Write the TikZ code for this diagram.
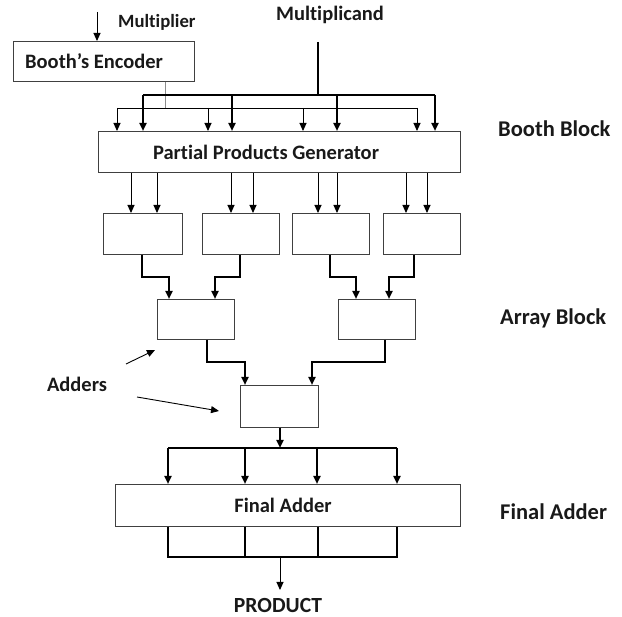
\documentclass[tikz,border=0pt]{standalone}
\usepackage{fontspec}
\setmainfont[Ligatures=NoCommon]{Carlito}
\usetikzlibrary{arrows.meta,calc}
\begin{document}
\begin{tikzpicture}[x=1pt,y=-1pt,
  box/.style={draw=black!75,line width=0.9pt,anchor=north west,inner sep=0pt},
  lbl/.style={font=\bfseries\fontsize{20.5}{22}\selectfont,text=black!90,inner sep=0pt},
  side/.style={font=\bfseries\fontsize{22.5}{24}\selectfont,text=black!90,inner sep=0pt,anchor=west},
  thin/.style={line width=0.9pt,-{Triangle[length=8pt,width=7pt]}},
  thick/.style={line width=2.2pt,-{Triangle[length=8pt,width=7pt]}},
  thickl/.style={line width=2.2pt},
  thinl/.style={line width=0.9pt}]
\useasboundingbox (0,0) rectangle (622,617);
% boxes
\node[box,minimum width=181pt,minimum height=40pt] (enc) at (13,41) {};
\node[lbl,anchor=west] at (25,61) {Booth’s Encoder};
\node[box,minimum width=362pt,minimum height=41pt] (ppg) at (98,131) {};
\node[lbl] at (266,152) {Partial Products Generator};
\node[box,minimum width=79pt,minimum height=41pt] (a1) at (103,213) {};
\node[box,minimum width=77pt,minimum height=41pt] (a2) at (202,213) {};
\node[box,minimum width=77pt,minimum height=41pt] (a3) at (292,213) {};
\node[box,minimum width=77pt,minimum height=41pt] (a4) at (383,213) {};
\node[box,minimum width=77pt,minimum height=40pt] (b1) at (157,299) {};
\node[box,minimum width=77pt,minimum height=40pt] (b2) at (338,299) {};
\node[box,minimum width=78pt,minimum height=42pt] (c1) at (240,385) {};
\node[box,minimum width=345pt,minimum height=42pt] (fa) at (115,484) {};
\node[lbl] at (283,505) {Final Adder};
% labels
\node[lbl,anchor=west,font=\bfseries\fontsize{18.7}{20}\selectfont] (mlt) at (118,22) {Multiplier};
\node[lbl] (mcd) at (330,15) {Multiplicand};
\node[side] at (498,129) {Booth Block};
\node[side] at (500,318) {Array Block};
\node[side] at (500,512) {Final Adder};
\node[lbl] (add) at (77,384) {Adders};
\node[lbl,font=\bfseries\fontsize{21.6}{23}\selectfont] (prod) at (278,605) {PRODUCT};
% multiplier input
\coordinate (minp) at (97,12);
\draw[thin] (minp) -- (minp |- enc.north);
% encoder bus (gray + thin)
\coordinate (eb) at (165,108);
\draw[line width=0.9pt,black!45] (enc.south -| eb) -- (eb);
\coordinate (tl) at (117,108);
\coordinate (tr) at (417,108);
\draw[thinl] (tl) -- (tr);
\foreach \x/\n in {117/t1,208/t2,303/t3,417/t4}{
  \coordinate (\n) at (\x,108);
  \draw[thin] (\n) -- (\n |- ppg.north);
}
% multiplicand bus (thick)
\coordinate (mtop) at (318,42);
\coordinate (mbus) at (318,95);
\draw[thickl] (mtop) -- (mbus);
\draw[thickl] (143,95) coordinate (ml) -- (435,95) coordinate (mr);
\foreach \x/\n in {143/m1,232/m2,337/m3,435/m4}{
  \coordinate (\n) at (\x,95);
  \draw[thick] (\n) -- (\n |- ppg.north);
}
% PPG to row 1
\foreach \x/\n in {131/p1,157/p2,231/p3,253/p4,318/p5,337/p6,406/p7,427/p8}{
  \coordinate (\n) at (\x,172);
  \draw[thin] (\n |- ppg.south) -- (\n |- a1.north);
}
% row1 to row2
\draw[thick] (142,0 |- a1.south) -- (142,277) -- (169,277) -- (169,0 |- b1.north);
\draw[thick] (240,0 |- a2.south) -- (240,277) -- (215,277) -- (215,0 |- b1.north);
\draw[thick] (330,0 |- a3.south) -- (330,277) -- (356,277) -- (356,0 |- b2.north);
\draw[thick] (414,0 |- a4.south) -- (414,277) -- (389,277) -- (389,0 |- b2.north);
% row2 to row3
\draw[thick] (207,0 |- b1.south) -- (207,362) -- (245,362) -- (245,0 |- c1.north);
\draw[thick] (385,0 |- b2.south) -- (385,362) -- (312,362) -- (312,0 |- c1.north);
% row3 to final adder
\coordinate (fb) at (280,448);
\draw[thick] (fb |- c1.south) -- (fb);
\draw[thickl] (168,448) -- (397,448);
\foreach \x in {168,245,317,397}{
  \draw[thick] (\x,448) -- (\x,0 |- fa.north);
}
% below final adder
\draw[thickl] (168,0 |- fa.south) -- (168,557) -- (397,557) -- (397,0 |- fa.south);
\draw[thickl] (245,0 |- fa.south) -- (245,557);
\draw[thickl] (318,0 |- fa.south) -- (318,557);
\coordinate (pb) at (280,558);
\draw[thin] (pb) -- (280,590);
% adders pointers
\draw[thin] (126,364) -- (155,350);
\draw[thin] (137,397) -- (219,411);
\end{tikzpicture}
\end{document}
